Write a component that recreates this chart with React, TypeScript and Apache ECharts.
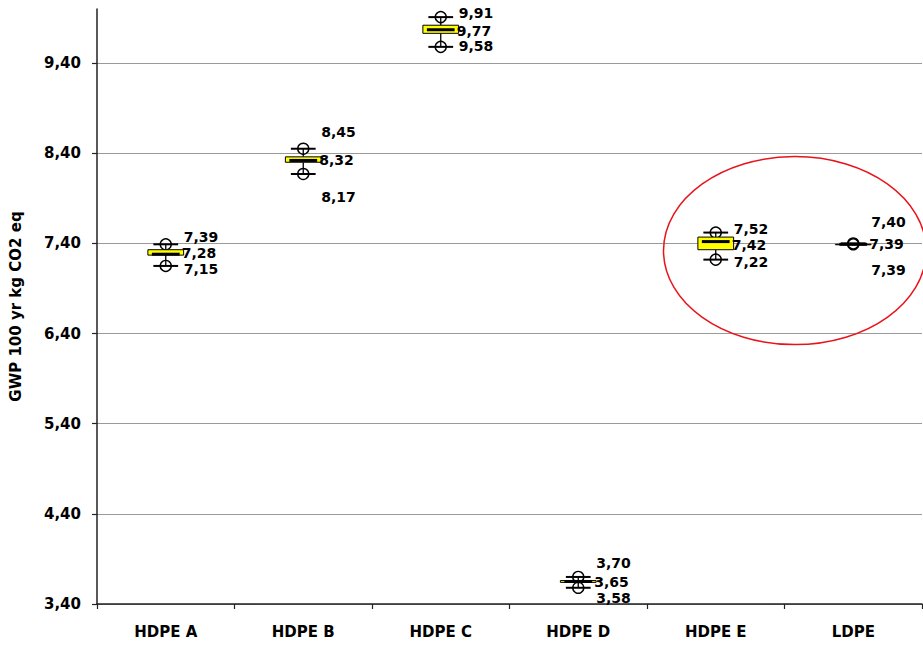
import React, { useEffect, useRef } from 'react';
import * as echarts from 'echarts';

const categories = ['HDPE A', 'HDPE B', 'HDPE C', 'HDPE D', 'HDPE E', 'LDPE'];
const minValues = [7.15, 8.17, 9.58, 3.58, 7.22, 7.39];
const q1Values = [7.27, 8.3, 9.73, 3.64, 7.33, 7.39];
const medianValues = [7.28, 8.32, 9.77, 3.65, 7.42, 7.39];
const q3Values = [7.33, 8.36, 9.82, 3.66, 7.47, 7.39];
const maxValues = [7.39, 8.45, 9.91, 3.7, 7.52, 7.4];
const yTickValues = [3.4, 4.4, 5.4, 6.4, 7.4, 8.4, 9.4];

// vertical nudges (px) of the max / median / min labels, per category
const labelNudge = [
  [-7, -1, 3],
  [-17, 0, 23],
  [-4, 1, -1],
  [-14, 1, 10],
  [-4, 3, 2],
  [-21, 0, 26],
];

const FONT = '"DejaVu Sans", "Liberation Sans", Arial, sans-serif';
const fmt = (v: number) => v.toFixed(2).replace('.', ',');

export default function App() {
  const ref = useRef<HTMLDivElement>(null);

  useEffect(() => {
    if (!ref.current) return;
    const chart = echarts.init(ref.current, undefined, { renderer: 'svg' });

    const data = categories.map((_, i) => [
      i,
      minValues[i],
      q1Values[i],
      medianValues[i],
      q3Values[i],
      maxValues[i],
    ]);

    const renderItem = (params: any, api: any) => {
      const i = api.value(0);
      const vMin = api.value(1);
      const vQ1 = api.value(2);
      const vMed = api.value(3);
      const vQ3 = api.value(4);
      const vMax = api.value(5);
      const cx = api.coord([i, vMed])[0];
      const yMin = api.coord([i, vMin])[1];
      const yQ1 = api.coord([i, vQ1])[1];
      const yMed = api.coord([i, vMed])[1];
      const yQ3 = api.coord([i, vQ3])[1];
      const yMax = api.coord([i, vMax])[1];
      const band = api.size([1, 0])[0];
      const boxW = band * 0.26;
      const capW = band * 0.18;
      const r = 5.5;
      const nudge = labelNudge[i];
      const black = '#000';
      const textStyle = (text: string) => ({
        text,
        fill: '#000',
        fontSize: 14,
        fontWeight: 'bold',
        fontFamily: FONT,
        align: 'left',
        verticalAlign: 'middle',
      });
      return {
        type: 'group',
        children: [
          { type: 'line', shape: { x1: cx, y1: yMax, x2: cx, y2: yQ3 }, style: { stroke: black, lineWidth: 1.3 } },
          { type: 'line', shape: { x1: cx, y1: yQ1, x2: cx, y2: yMin }, style: { stroke: black, lineWidth: 1.3 } },
          { type: 'circle', shape: { cx, cy: yMax, r }, style: { fill: 'none', stroke: black, lineWidth: 1.4 } },
          { type: 'circle', shape: { cx, cy: yMin, r }, style: { fill: 'none', stroke: black, lineWidth: 1.4 } },
          { type: 'line', shape: { x1: cx - capW / 2, y1: yMax, x2: cx + capW / 2, y2: yMax }, style: { stroke: black, lineWidth: 2 } },
          { type: 'line', shape: { x1: cx - capW / 2, y1: yMin, x2: cx + capW / 2, y2: yMin }, style: { stroke: black, lineWidth: 2 } },
          {
            type: 'rect',
            shape: { x: cx - boxW / 2, y: yQ3, width: boxW, height: Math.max(yQ1 - yQ3, 0.5) },
            style: { fill: '#ffff00', stroke: black, lineWidth: 1 },
          },
          { type: 'line', shape: { x1: cx - boxW / 2 + 4, y1: yMed, x2: cx + boxW / 2 - 4, y2: yMed }, style: { stroke: black, lineWidth: 3 } },
          { type: 'text', x: cx + 18, y: yMax + nudge[0], style: textStyle(fmt(vMax)) },
          { type: 'text', x: cx + 16, y: yMed + nudge[1], style: textStyle(fmt(vMed)) },
          { type: 'text', x: cx + 18, y: yMin + nudge[2], style: textStyle(fmt(vMin)) },
        ],
      };
    };

    chart.setOption({
      animation: false,
      backgroundColor: '#fff',
      grid: { left: 96, right: 1, top: 9, bottom: 42, containLabel: false },
      xAxis: {
        type: 'category',
        data: categories,
        boundaryGap: true,
        axisLine: { lineStyle: { color: '#222', width: 1.5 } },
        axisTick: { show: true, length: 5, lineStyle: { color: '#222', width: 1.2 } },
        axisLabel: { color: '#000', fontWeight: 'bold', fontSize: 15, fontFamily: FONT, margin: 20 },
        splitLine: { show: false },
      },
      yAxis: {
        type: 'value',
        min: 3.4,
        max: 10,
        interval: 1,
        name: 'GWP 100 yr kg CO2 eq',
        nameLocation: 'middle',
        nameGap: 74,
        nameTextStyle: { color: '#000', fontWeight: 'bold', fontSize: 15, fontFamily: FONT },
        axisLine: { show: true, lineStyle: { color: '#222', width: 1.5 } },
        axisTick: { show: true, length: 5, customValues: yTickValues, lineStyle: { color: '#222', width: 1.2 } },
        axisLabel: {
          customValues: yTickValues,
          color: '#000',
          fontWeight: 'bold',
          fontSize: 15,
          fontFamily: FONT,
          margin: 16,
          formatter: (v: number) => fmt(v),
        },
        splitLine: { show: true, lineStyle: { color: '#9a9a9a', width: 1 } },
      },
      series: [
        {
          type: 'custom',
          renderItem,
          data,
          encode: { x: 0, y: [1, 2, 3, 4, 5] },
          clip: false,
          z: 3,
        },
      ],
    });

    const pE = chart.convertToPixel({ xAxisIndex: 0, yAxisIndex: 0 }, [4, 7.32]) as number[];
    const pL = chart.convertToPixel({ xAxisIndex: 0, yAxisIndex: 0 }, [5, 7.32]) as number[];
    if (pE && pL) {
      const band = pL[0] - pE[0];
      chart.setOption({
        graphic: [
          {
            type: 'ellipse',
            shape: { cx: (pE[0] + pL[0]) / 2 + band * 0.075, cy: pE[1], rx: band * 0.955, ry: 94 },
            style: { fill: 'none', stroke: '#e8141b', lineWidth: 1.5 },
            z: 10,
          },
        ],
      });
    }

    return () => chart.dispose();
  }, []);

  return (
    <div
      ref={ref}
      style={{ position: 'fixed', left: 0, top: 0, width: 923, height: 646, background: '#fff' }}
    />
  );
}
